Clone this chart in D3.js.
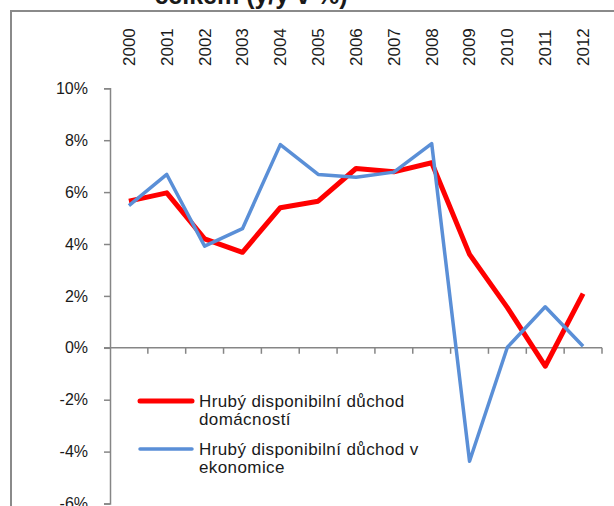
<!DOCTYPE html>
<meta charset="utf-8">
<head>
<style>
  body { margin: 0; background: #fff; }
  text { font-family: Arial, "Liberation Sans", sans-serif; fill: #1a1a1a; }
</style>
</head>
<body>
<script src="https://d3js.org/d3.v7.min.js"></script>
<div id="chart"></div>
<script>
// data (% y/y)
var years = ["2000","2001","2002","2003","2004","2005","2006","2007","2008","2009","2010","2011","2012"];
var domacnosti = [5.65, 5.97, 4.2, 3.68, 5.4, 5.65, 6.91, 6.78, 7.13, 3.6, 1.55, -0.71, 2.09];
var ekonomika = [5.48, 6.68, 3.92, 4.59, 7.83, 6.68, 6.57, 6.77, 7.87, -4.37, 0.02, 1.58, 0.06];
var yTicks = [-6, -4, -2, 0, 2, 4, 6, 8, 10];
var seriesNames = [["Hrubý disponibilní  důchod", "domácností"], ["Hrubý disponibilní  důchod v", "ekonomice"]];
var title = "celkem (y/y v %)";

var W = 614, H = 506;
var svg = d3.select("#chart").append("svg")
    .attr("width", W)
    .attr("height", H);

svg.append("rect").attr("width", W).attr("height", H).attr("fill", "#fff");

// chart frame (right / bottom edges are off the picture)
svg.append("rect")
    .attr("x", 11).attr("y", 11)
    .attr("width", W + 20).attr("height", H + 20)
    .attr("fill", "none")
    .attr("stroke", "#8a8a8a")
    .attr("stroke-width", 2);

svg.append("text")
    .attr("x", 251).attr("y", 4)
    .attr("text-anchor", "middle")
    .attr("font-size", "25px")
    .attr("font-weight", "bold")
    .text(title);

var x = d3.scaleBand()
    .domain(years)
    .range([110, 602])
    .padding(0);

var y = d3.scaleLinear()
    .domain([-6, 10])
    .range([503.5, 88.3]);

var axisColor = "#868686";

// Y axis
var yAxis = svg.append("g")
    .attr("transform", "translate(110,0)")
    .call(d3.axisLeft(y).tickValues(yTicks).tickSize(6).tickPadding(16)
        .tickFormat(function(d) { return d + "%"; }));
yAxis.select(".domain").attr("stroke", axisColor).attr("stroke-width", 1.5);
yAxis.selectAll(".tick line").attr("stroke", axisColor).attr("stroke-width", 1.5);
yAxis.selectAll(".tick text")
    .attr("font-size", "16px")
    .attr("font-family", "Arial, 'Liberation Sans', sans-serif")
    .attr("fill", "#1a1a1a");

// X axis at 0 with tick marks on category borders
var y0 = y(0);
svg.append("line")
    .attr("x1", 104).attr("x2", 602)
    .attr("y1", y0).attr("y2", y0)
    .attr("stroke", axisColor).attr("stroke-width", 1.5);
svg.append("g").selectAll("line")
    .data(years)
    .enter().append("line")
    .attr("x1", function(d) { return x(d) + x.bandwidth(); })
    .attr("x2", function(d) { return x(d) + x.bandwidth(); })
    .attr("y1", y0).attr("y2", y0 + 6)
    .attr("stroke", axisColor).attr("stroke-width", 1.5);

// year labels at the top, rotated
svg.append("g").selectAll("text")
    .data(years)
    .enter().append("text")
    .attr("transform", function(d) {
        return "translate(" + (x(d) + x.bandwidth() / 2) + ",66) rotate(-90)";
    })
    .attr("dy", "0.35em")
    .attr("text-anchor", "start")
    .attr("font-size", "17px")
    .text(function(d) { return d; });

// lines
var line = d3.line()
    .x(function(d, i) { return x(years[i]) + x.bandwidth() / 2; })
    .y(function(d) { return y(d); });

svg.append("path")
    .datum(domacnosti)
    .attr("d", line)
    .attr("fill", "none")
    .attr("stroke", "#ff0000")
    .attr("stroke-width", 5)
    .attr("stroke-linejoin", "round");

svg.append("path")
    .datum(ekonomika)
    .attr("d", line)
    .attr("fill", "none")
    .attr("stroke", "#5a8fd7")
    .attr("stroke-width", 3.5)
    .attr("stroke-linejoin", "round");

// legend
var legend = svg.append("g");
var legendColors = ["#ff0000", "#5a8fd7"];
var legendWidths = [5, 3.5];
var legendY = [401, 449];

legend.selectAll("line")
    .data(seriesNames)
    .enter().append("line")
    .attr("x1", 140).attr("x2", 192)
    .attr("y1", function(d, i) { return legendY[i]; })
    .attr("y2", function(d, i) { return legendY[i]; })
    .attr("stroke", function(d, i) { return legendColors[i]; })
    .attr("stroke-width", function(d, i) { return legendWidths[i]; })
    .attr("stroke-linecap", "round");

legend.selectAll("text")
    .data(seriesNames)
    .enter().append("text")
    .attr("x", 199)
    .attr("y", function(d, i) { return legendY[i] + 6; })
    .attr("font-size", "17px")
    .attr("letter-spacing", "0.4px")
    .each(function(d) {
        var t = d3.select(this);
        d.forEach(function(s, k) {
            t.append("tspan")
                .attr("x", 199)
                .attr("dy", k === 0 ? 0 : 18)
                .text(s);
        });
    });
</script>
</body>
